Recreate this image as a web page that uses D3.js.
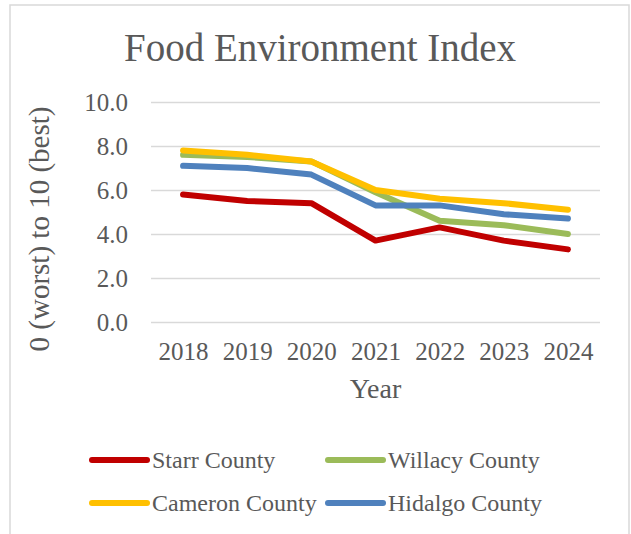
<!DOCTYPE html>
<html>
<head>
<meta charset="utf-8">
<script src="https://cdn.jsdelivr.net/npm/d3@7"></script>
<style>
  html, body { margin: 0; padding: 0; background: #fff; }
  svg { display: block; }
  text { font-family: "Liberation Serif", "Times New Roman", serif; fill: #595959; }
</style>
</head>
<body>
<svg id="chart" width="631" height="534"></svg>
<script>
// Food Environment Index by county, 2018–2024
const years = ["2018", "2019", "2020", "2021", "2022", "2023", "2024"];
const yTicks = [0, 2, 4, 6, 8, 10];
const seriesNames = ["Starr County", "Willacy County", "Cameron County", "Hidalgo County"];
const seriesColors = ["#C00000", "#9BBB59", "#FFC000", "#4F81BD"];
const starr   = [5.8, 5.5, 5.4, 3.7, 4.3, 3.7, 3.3];
const willacy = [7.6, 7.5, 7.3, 5.9, 4.6, 4.4, 4.0];
const cameron = [7.8, 7.6, 7.3, 6.0, 5.6, 5.4, 5.1];
const hidalgo = [7.1, 7.0, 6.7, 5.3, 5.3, 4.9, 4.7];
const seriesValues = [starr, willacy, cameron, hidalgo];

const svg = d3.select("#chart");

// outer chart frame
svg.append("rect")
  .attr("x", 10).attr("y", 5)
  .attr("width", 619).attr("height", 560)
  .attr("fill", "#fff")
  .attr("stroke", "#d9d9d9").attr("stroke-width", 1.5);

const plot = { left: 151, right: 600, top: 102, bottom: 322 };

const x = d3.scalePoint().domain(years).range([plot.left, plot.right]).padding(0.5);
const y = d3.scaleLinear().domain([0, 10]).range([plot.bottom, plot.top]);

// title
svg.append("text")
  .attr("x", 320).attr("y", 61)
  .attr("text-anchor", "middle")
  .style("font-size", "39px")
  .text("Food Environment Index");

// value axis with gridlines
const yAxis = svg.append("g")
  .attr("transform", `translate(${plot.left},0)`)
  .call(d3.axisLeft(y).tickValues(yTicks).tickFormat(d3.format(".1f"))
    .tickSize(-(plot.right - plot.left)).tickPadding(23));
yAxis.select(".domain").remove();
yAxis.selectAll(".tick line").attr("stroke", "#d9d9d9").attr("stroke-width", 1.5);
yAxis.selectAll(".tick text").style("font-size", "25px").attr("fill", "#595959");
yAxis.attr("font-family", null).attr("font-size", null);

// category axis
const xAxis = svg.append("g")
  .attr("transform", `translate(0,${plot.bottom})`)
  .call(d3.axisBottom(x).tickSize(0).tickPadding(20));
xAxis.select(".domain").remove();
xAxis.selectAll(".tick text").style("font-size", "25px").attr("fill", "#595959");
xAxis.attr("font-family", null).attr("font-size", null);

// axis titles
svg.append("text")
  .attr("x", (plot.left + plot.right) / 2).attr("y", 398)
  .attr("text-anchor", "middle")
  .style("font-size", "28px")
  .text("Year");

svg.append("text")
  .attr("transform", "translate(49,229) rotate(-90)")
  .attr("text-anchor", "middle")
  .style("font-size", "29px")
  .text("0 (worst) to 10 (best)");

// series lines
const line = d3.line()
  .x((d, i) => x(years[i]))
  .y(d => y(d));

seriesValues.forEach((vals, i) => {
  svg.append("path")
    .datum(vals)
    .attr("d", line)
    .attr("fill", "none")
    .attr("stroke", seriesColors[i])
    .attr("stroke-width", 6)
    .attr("stroke-linejoin", "round")
    .attr("stroke-linecap", "round");
});

// legend, two columns
const legendPos = [
  { x: 92, y: 460 }, { x: 328, y: 460 },
  { x: 92, y: 503 }, { x: 328, y: 503 }
];
seriesNames.forEach((name, i) => {
  const g = svg.append("g").attr("transform", `translate(${legendPos[i].x},${legendPos[i].y})`);
  g.append("line")
    .attr("x1", 0).attr("x2", 55).attr("y1", 0).attr("y2", 0)
    .attr("stroke", seriesColors[i]).attr("stroke-width", 6)
    .attr("stroke-linecap", "round");
  g.append("text")
    .attr("x", 60).attr("y", 8)
    .style("font-size", "24px")
    .text(name);
});
</script>
</body>
</html>
